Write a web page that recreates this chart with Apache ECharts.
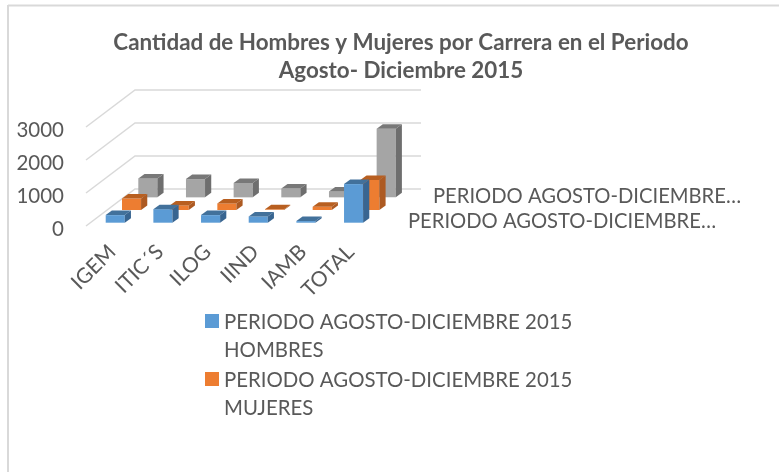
<!DOCTYPE html>
<html>
<head>
<meta charset="utf-8">
<style>html,body{margin:0;padding:0;background:#fff}#c{width:779px;height:472px}</style>
<script src="https://cdn.jsdelivr.net/npm/echarts@6/dist/echarts.min.js"></script>
</head>
<body>
<div id="c"></div>
<script>
var categories = ['IGEM', 'ITIC´S', 'ILOG', 'IIND', 'IAMB', 'TOTAL'];
var hombres = [230, 410, 230, 190, 50, 1170];
var mujeres = [350, 140, 200, 20, 100, 910];
var totales = [575, 555, 435, 265, 180, 2080];
var yTicks = [0, 1000, 2000, 3000];
var nameHombres = 'PERIODO AGOSTO-DICIEMBRE 2015\nHOMBRES';
var nameMujeres = 'PERIODO AGOSTO-DICIEMBRE 2015\nMUJERES';
var nameTotal = 'PERIODO AGOSTO-DICIEMBRE 2015 TOTAL';
var titleText = 'Cantidad de Hombres y Mujeres por Carrera en el Periodo\nAgosto- Diciembre 2015';
var depthLabel = 'PERIODO AGOSTO-DICIEMBRE…';

var FONT = 'Lato, "Open Sans", sans-serif';
var TXT = '#595959';
var WALL_DX = 49, WALL_DY = -37;        // floor depth projection
var ROW_DX = 16.3, ROW_DY = -12.67;     // shift between depth rows
var FRONT_DX = 5.4, FRONT_DY = -3.3;    // shift of first row
var BAR_DX = 6.2, BAR_DY = -4.5;        // depth of one bar
var BAR_FRAC = 0.4;
var BAR_INSET = 14.3;

function poly(points, fill) {
  return { type: 'polygon', shape: { points: points }, style: { fill: fill } };
}
function barRenderer(row, front, top, side) {
  return function (params, api) {
    var idx = api.value(0), val = api.value(1);
    var band = api.size([1, 0])[0];
    var w = band * BAR_FRAC;
    var base = api.coord([idx, 0]), head = api.coord([idx, val]);
    var oy = FRONT_DY + row * ROW_DY;
    var x0 = base[0] - band / 2 + FRONT_DX + row * ROW_DX + BAR_INSET;
    var x1 = x0 + w, yb = base[1] + oy, yt = head[1] + oy;
    return {
      type: 'group',
      children: [
        poly([[x0, yb], [x1, yb], [x1, yt], [x0, yt]], front),
        poly([[x0, yt], [x1, yt], [x1 + BAR_DX, yt + BAR_DY], [x0 + BAR_DX, yt + BAR_DY]], top),
        poly([[x1, yb], [x1 + BAR_DX, yb + BAR_DY], [x1 + BAR_DX, yt + BAR_DY], [x1, yt]], side)
      ]
    };
  };
}
function frameRenderer(params, api) {
  var sys = params.coordSys;
  var y = api.coord([0, api.value(0)])[1];
  var x = sys.x;
  return {
    type: 'polyline',
    shape: { points: [[x, y], [x + WALL_DX, y + WALL_DY], [x + sys.width + WALL_DX, y + WALL_DY]] },
    style: { stroke: '#d9d9d9', lineWidth: 1.5, fill: null }
  };
}
function pairs(values) {
  return values.map(function (v, i) { return [i, v]; });
}
var chart = echarts.init(document.getElementById('c'), null, { renderer: 'canvas' });
chart.setOption({
  animation: false,
  backgroundColor: '#ffffff',
  textStyle: { fontFamily: FONT },
  title: {
    text: titleText,
    left: 396,
    top: 24,
    textAlign: 'center',
    textStyle: { fontFamily: FONT, fontWeight: 'bold', fontSize: 22.4, lineHeight: 28, color: TXT }
  },
  grid: { left: 86, top: 127, width: 286, height: 99, containLabel: false },
  xAxis: {
    type: 'category',
    data: categories,
    axisLine: { show: false },
    axisTick: { show: false },
    splitLine: { show: false },
    axisLabel: {
      rotate: 45, interval: 0, margin: 20,
      formatter: function (v) { return '{a|' + v + '}'; },
      rich: { a: { padding: [7, 0, 0, 0], fontSize: 21, color: TXT, fontFamily: FONT } }
    }
  },
  yAxis: {
    type: 'value',
    min: 0,
    max: 3000,
    interval: 1000,
    axisLine: { show: false },
    axisTick: { show: false },
    splitLine: { show: false },
    axisLabel: {
      margin: 22,
      formatter: function (v) { return '{a|' + v + '}'; },
      rich: { a: { padding: [6, 0, 0, 0], fontSize: 20.5, color: TXT, fontFamily: FONT } }
    }
  },
  legend: {
    orient: 'vertical',
    left: 205,
    top: 308,
    padding: 0,
    itemWidth: 14,
    itemHeight: 44,
    itemGap: 2,
    icon: 'path://M0 0H14V14H0Z M0 44H0.01V44.01H0Z',
    selectedMode: false,
    data: [nameHombres, nameMujeres],
    textStyle: { fontFamily: FONT, fontSize: 20.4, lineHeight: 28, color: TXT }
  },
  graphic: [
    { type: 'line', silent: true, shape: { x1: 8, y1: 5.5, x2: 779, y2: 5.5 }, style: { stroke: '#d9d9d9', lineWidth: 2 } },
    { type: 'line', silent: true, shape: { x1: 8, y1: 5, x2: 8, y2: 472 }, style: { stroke: '#d9d9d9', lineWidth: 2 } },
    { type: 'text', silent: true, x: 433, y: 196, style: { text: depthLabel, fill: TXT, font: '20.2px ' + FONT, verticalAlign: 'middle' } },
    { type: 'text', silent: true, x: 408, y: 221, style: { text: depthLabel, fill: TXT, font: '20.2px ' + FONT, verticalAlign: 'middle' } }
  ],
  series: [
    { type: 'custom', name: 'grid', silent: true, z: 1, data: yTicks.map(function (v) { return [v]; }),
      encode: { y: 0 }, renderItem: frameRenderer },
    { type: 'custom', name: nameTotal, z: 2, itemStyle: { color: '#a5a5a5' }, data: pairs(totales),
      encode: { x: 0, y: 1 }, renderItem: barRenderer(2, '#a5a5a5', '#787878', '#6e6e6e') },
    { type: 'custom', name: nameMujeres, z: 3, itemStyle: { color: '#ed7d31' }, data: pairs(mujeres),
      encode: { x: 0, y: 1 }, renderItem: barRenderer(1, '#ed7d31', '#b85f20', '#ad5a22') },
    { type: 'custom', name: nameHombres, z: 4, itemStyle: { color: '#5b9bd5' }, data: pairs(hombres),
      encode: { x: 0, y: 1 }, renderItem: barRenderer(0, '#5b9bd5', '#42719b', '#386591') }
  ]
});
</script>
</body>
</html>
